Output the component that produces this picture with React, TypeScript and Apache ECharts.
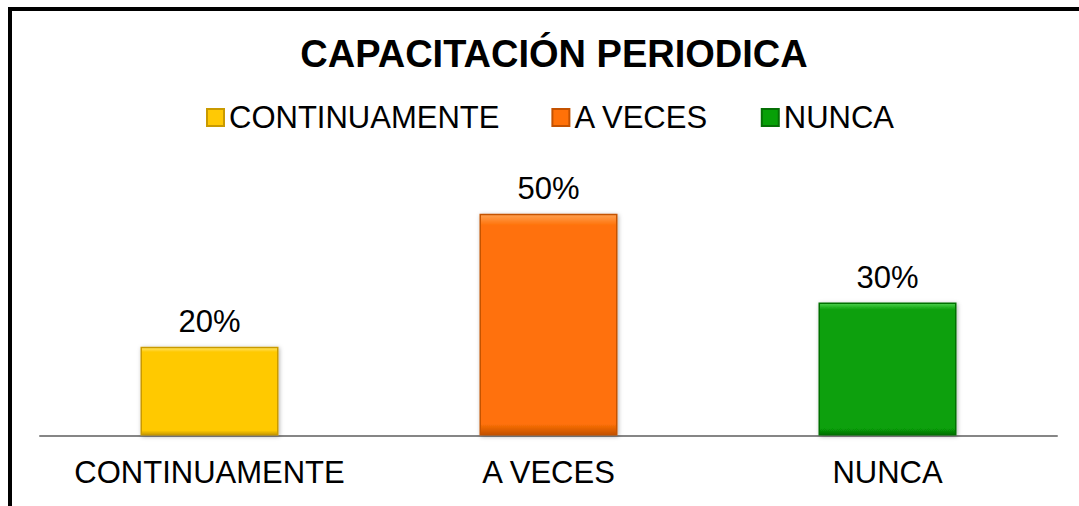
import React, { useEffect, useRef } from "react";
import * as echarts from "echarts";

const titleText = "CAPACITACIÓN PERIODICA";
const categories = ["CONTINUAMENTE", "A VECES", "NUNCA"];
const seriesNames = ["CONTINUAMENTE", "A VECES", "NUNCA"];
const values = [20, 50, 30];
const baseColors = ["#FFC905", "#FF7108", "#07A007"];
const lightColors = ["#FFE566", "#FFA050", "#4CD04C"];
const darkColors = ["#C99A00", "#C45200", "#057005"];

const FONT = '"Liberation Sans", Arial, sans-serif';

function barGradient(i: number) {
  return new echarts.graphic.LinearGradient(0, 0, 0, 1, [
    { offset: 0, color: lightColors[i] },
    { offset: 0.05, color: baseColors[i] },
    { offset: 0.95, color: baseColors[i] },
    { offset: 1, color: darkColors[i] },
  ]);
}

export default function App() {
  const ref = useRef<HTMLDivElement>(null);
  useEffect(() => {
    if (!ref.current) return;
    const chart = echarts.init(ref.current, null, { renderer: "svg" });
    const series = seriesNames.map((name, i) => ({
      name,
      type: "bar",
      barWidth: 138,
      barGap: "-100%",
      data: categories.map((_, j) => (j === i ? values[j] : null)),
      itemStyle: {
        color: barGradient(i),
        borderColor: darkColors[i],
        borderWidth: 1.5,
        shadowColor: "rgba(0,0,0,0.3)",
        shadowBlur: 4,
        shadowOffsetX: 1,
        shadowOffsetY: 1,
      },
      label: {
        show: true,
        position: "top",
        distance: 10,
        formatter: "{c}%",
        color: "#000",
        fontSize: 31,
        fontFamily: FONT,
      },
    }));
    chart.setOption({
      animation: false,
      backgroundColor: "#fff",
      title: {
        text: titleText,
        left: 549,
        top: 30,
        textAlign: "center",
        textStyle: {
          fontSize: 38,
          fontWeight: "bold",
          color: "#000",
          fontFamily: FONT,
        },
      },
      legend: {
        data: seriesNames,
        left: 206,
        top: 102,
        padding: 0,
        itemWidth: 17,
        itemHeight: 17,
        itemGap: 52,
        icon: "rect",
        textStyle: { fontSize: 31, color: "#000", fontFamily: FONT },
      },
      grid: { left: 40, right: 22, top: 169.5, bottom: 70.5 },
      xAxis: {
        type: "category",
        data: categories,
        axisTick: { show: false },
        axisLine: { lineStyle: { color: "#868686", width: 2 } },
        axisLabel: {
          interval: 0,
          fontSize: 31,
          color: "#000",
          margin: 21,
          fontFamily: FONT,
        },
      },
      yAxis: {
        type: "value",
        min: 0,
        max: 60,
        show: false,
        splitLine: { show: false },
      },
      graphic: [
        {
          type: "rect",
          shape: { x: 10, y: 9, width: 1200, height: 700 },
          style: { fill: "none", stroke: "#000", lineWidth: 4 },
          z: 100,
        },
      ],
      series,
    });
    return () => chart.dispose();
  }, []);
  return (
    <div
      ref={ref}
      style={{ position: "absolute", left: 0, top: 0, width: 1079, height: 506 }}
    />
  );
}
